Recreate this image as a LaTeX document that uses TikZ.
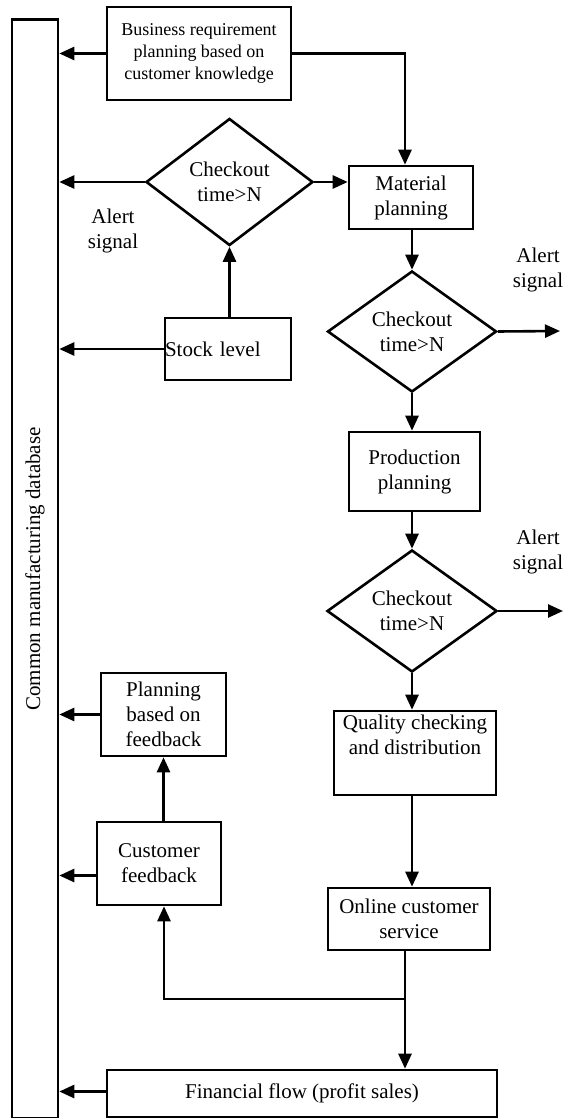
\documentclass[tikz,border=0pt]{standalone}
\usepackage{fontspec}
\setmainfont{Liberation Serif}
\usetikzlibrary{arrows.meta,shapes.geometric}

\begin{document}
\begin{tikzpicture}[x=0.5pt, y=-0.5pt,
  box/.style={shape=rectangle, draw, line width=1.3pt, inner sep=0pt, align=center, font=\fontsize{10.5}{12.5}\selectfont},
  check/.style={shape=diamond, draw, line width=1.3pt, inner sep=0pt, aspect=1.4, align=center, font=\fontsize{10.5}{12.5}\selectfont},
  note/.style={inner sep=0pt, align=center, font=\fontsize{10.5}{12.5}\selectfont},
  arr/.style={line width=1.3pt, -{Triangle[length=7.5pt, width=6.5pt]}}]
  \useasboundingbox (0, 0) rectangle (564, 1118);
  \node (db) at (35, 569) [box, rotate=90, minimum width=549.5pt, minimum height=23pt] {Common manufacturing database};
  \node (biz) at (199, 53.5) [box, minimum width=92pt, minimum height=46.5pt, font=\fontsize{9}{11}\selectfont] {Business requirement\\planning based on\\customer knowledge};
  \node (chk1) at (229.5, 182) [check, minimum width=83.5pt, minimum height=63.5pt] {Checkout\\time>N};
  \node (mat) at (411, 197.5) [box, minimum width=62pt, minimum height=31.5pt] {Material\\planning};
  \node (stock) at (228, 349) [box, text width=63pt, align=left, minimum height=31pt] {Stock level};
  \node (chk2) at (412, 331.5) [check, minimum width=84.5pt, minimum height=60.5pt] {Checkout\\time>N};
  \node (prod) at (414.5, 471.5) [box, minimum width=65.5pt, minimum height=39.5pt] {Production\\planning};
  \node (chk3) at (412, 611) [check, minimum width=85pt, minimum height=61pt] {Checkout\\time>N};
  \node (qual) at (415, 753) [box, minimum width=81pt, minimum height=42pt, text depth=18pt] {Quality checking\\and distribution};
  \node (online) at (409, 919) [box, minimum width=81pt, minimum height=31pt] {Online customer\\service};
  \node (pfb) at (163.5, 714.5) [box, minimum width=62.5pt, minimum height=41.5pt] {Planning\\based on\\feedback};
  \node (cfb) at (159, 863.5) [box, minimum width=62pt, minimum height=41.5pt] {Customer\\feedback};
  \node (fin) at (302, 1093.5) [box, minimum width=195pt, minimum height=23.5pt] {Financial flow (profit sales)};
  \node (alert1) at (113, 231) [note] {Alert\\signal};
  \node (alert2) at (538, 270) [note] {Alert\\signal};
  \node (alert3) at (538, 552) [note] {Alert\\signal};
  \coordinate (out2) at (560, 331);
  \coordinate (out3) at (563, 611);
  \coordinate (jn) at (405, 999);
  \draw[arr] (biz.west) -- (biz.west -| db.south);
  \draw[arr] (biz.east) -| ([xshift=-3pt]mat.north);
  \draw[arr] (chk1.west) -- (chk1.west -| db.south);
  \draw[arr] (chk1.east) -- (chk1.east -| mat.west);
  \draw[arr] (stock.north -| chk1.south) -- (chk1.south);
  \draw[arr] (stock.west) -- (stock.west -| db.south);
  \draw[arr] (mat.south -| chk2.north) -- (chk2.north);
  \draw[arr] (chk2.east) -- (out2);
  \draw[arr] (chk2.south) -- (chk2.south |- prod.north);
  \draw[arr] (prod.south -| chk3.north) -- (chk3.north);
  \draw[arr] (chk3.east) -- (out3);
  \draw[arr] (chk3.south) -- (chk3.south |- qual.north);
  \draw[arr] (qual.south -| chk3.south) -- (chk3.south |- online.north);
  \draw[line width=1.3pt] (online.south -| jn) -- (jn);
  \draw[arr] (jn) -- (jn |- fin.north);
  \draw[arr] (jn) -| ([xshift=2.5pt]cfb.south);
  \draw[arr] (cfb.north -| pfb.south) -- (pfb.south);
  \draw[arr] (pfb.west) -- (pfb.west -| db.south);
  \draw[arr] ([yshift=-6pt]cfb.west) -- ([yshift=-6pt]cfb.west -| db.south);
  \draw[arr] ([yshift=1pt]fin.west) -- ([yshift=1pt]fin.west -| db.south);
\end{tikzpicture}
\end{document}
